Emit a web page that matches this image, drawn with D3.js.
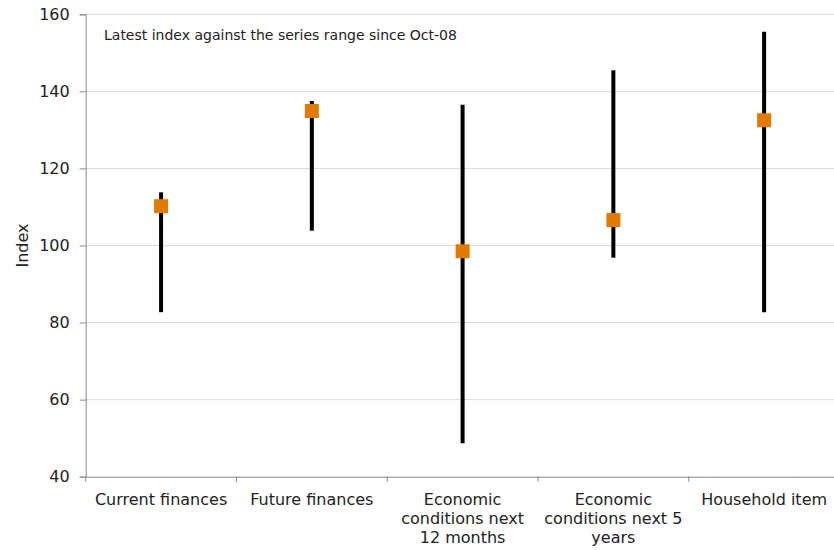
<!DOCTYPE html>
<html><head><meta charset="utf-8">
<script src="https://cdn.jsdelivr.net/npm/d3@7"></script>
<style>body{margin:0;background:#fff}svg{display:block}text{font-family:"DejaVu Sans",Verdana,sans-serif;fill:#222}</style>
</head><body><svg id="c" width="834" height="550"></svg>
<script>
const categories = [["Current finances"],["Future finances"],["Economic","conditions next","12 months"],["Economic","conditions next 5","years"],["Household item"]];
const categoryNames = ["Current finances","Future finances","Economic conditions next 12 months","Economic conditions next 5 years","Household item"];
const rangeHigh = [113.8, 137.5, 136.5, 145.5, 155.5];
const rangeLow = [82.7, 103.8, 48.7, 96.8, 82.7];
const latest = [110.2, 134.9, 98.5, 106.6, 132.5];
const yTicks = [40, 60, 80, 100, 120, 140, 160];
const note = "Latest index against the series range since Oct-08";

const svg = d3.select("#c");
const m = {l: 85.7, r: 839.5, t: 14.3, b: 476.7};
const x = d3.scaleBand().domain(categoryNames).range([m.l, m.r]).padding(0);
const y = d3.scaleLinear().domain([40, 160]).range([m.b, m.t]);

// gridlines
svg.append("g").selectAll("line").data(yTicks.filter(d => d > 40)).join("line")
  .attr("x1", m.l).attr("x2", m.r).attr("y1", d => y(d)).attr("y2", d => y(d))
  .attr("stroke", "#d3dce3").attr("stroke-width", 1);

// y axis
const ya = svg.append("g").attr("transform", `translate(${m.l},0)`)
  .call(d3.axisLeft(y).tickValues(yTicks).tickSize(6).tickPadding(10));
ya.select(".domain").attr("stroke", "#888");
ya.selectAll(".tick line").attr("stroke", "#888");
ya.selectAll(".tick text").style("font-size", "16px").attr("fill", "#222");

// x axis
const xa = svg.append("g").attr("transform", `translate(0,${m.b})`)
  .call(d3.axisBottom(x).tickSize(0).tickFormat(""));
xa.select(".domain").attr("stroke", "#888");
svg.append("g").selectAll("line").data(categoryNames).join("line")
  .attr("x1", d => x(d)).attr("x2", d => x(d)).attr("y1", m.b).attr("y2", m.b + 5)
  .attr("stroke", "#888");

categories.forEach((lines, i) => {
  const cx = x(categoryNames[i]) + x.bandwidth() / 2;
  const t = svg.append("text").attr("text-anchor", "middle")
    .attr("x", cx).attr("y", m.b + 28).style("font-size", "16px");
  lines.forEach((ln, j) => t.append("tspan").attr("x", cx)
    .attr("dy", j === 0 ? 0 : 19).text(ln));
});

// y label
svg.append("text").attr("transform", `translate(28,${(m.t + m.b) / 2}) rotate(-90)`)
  .attr("text-anchor", "middle").style("font-size", "16px").text("Index");

// note
svg.append("text").attr("x", 104).attr("y", 40).style("font-size", "14px").text(note);

// range lines
svg.append("g").selectAll("line").data(categoryNames).join("line")
  .attr("x1", d => x(d) + x.bandwidth() / 2).attr("x2", d => x(d) + x.bandwidth() / 2)
  .attr("y1", (d, i) => y(rangeHigh[i])).attr("y2", (d, i) => y(rangeLow[i]))
  .attr("stroke", "#000").attr("stroke-width", 4);

// markers
const s = 14;
svg.append("g").selectAll("rect").data(categoryNames).join("rect")
  .attr("x", d => x(d) + x.bandwidth() / 2 - s / 2)
  .attr("y", (d, i) => y(latest[i]) - s / 2)
  .attr("width", s).attr("height", s)
  .attr("fill", "#e07b00");
</script></body></html>
